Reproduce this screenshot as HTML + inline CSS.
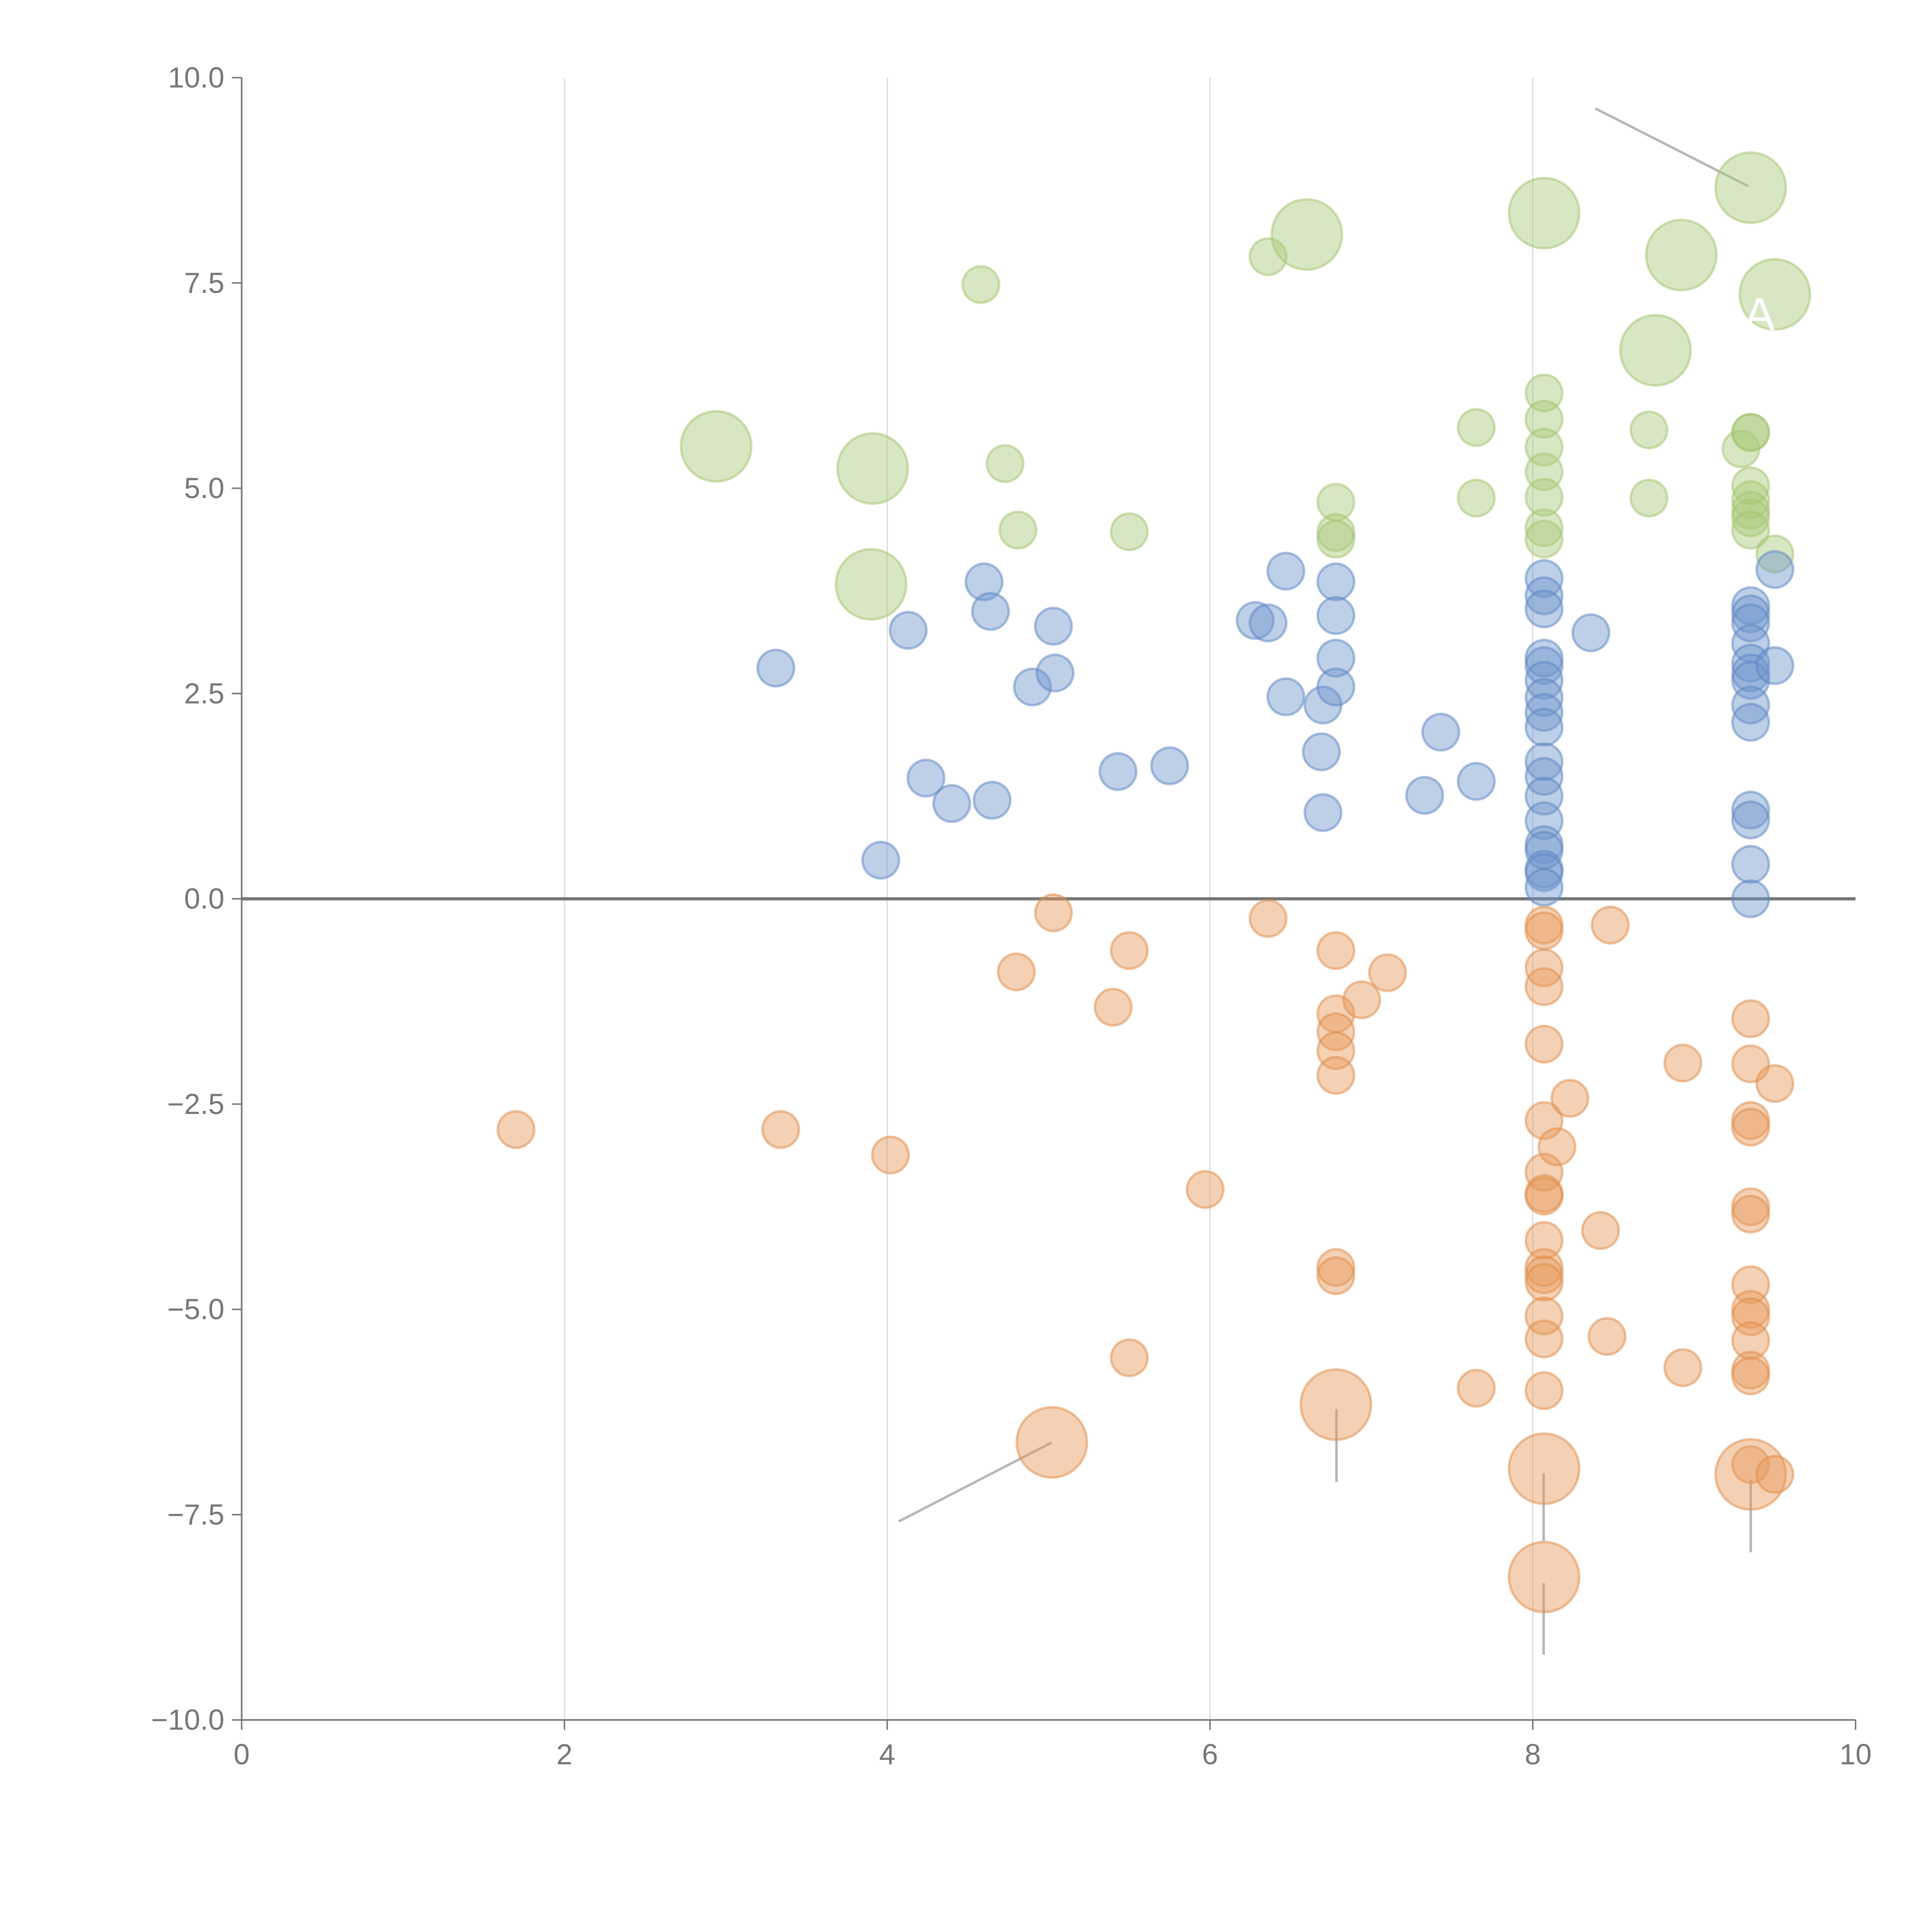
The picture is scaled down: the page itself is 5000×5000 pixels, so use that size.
<!DOCTYPE html>
<html><head><meta charset="utf-8"><style>html,body{margin:0;padding:0;background:#fff}svg{display:block}</style></head>
<body>
<svg id="chart" width="5000" height="5000" viewBox="0 0 1567 1567" xmlns="http://www.w3.org/2000/svg" font-family="Liberation Sans, sans-serif">
<g id="grid"></g>
<g id="axes"></g>
<g id="annot"></g>
<g id="marks"></g>
</svg>
<script>
const xTicks=[0,2,4,6,8,10];
const yTicks=[-10,-7.5,-5,-2.5,0,2.5,5,7.5,10];
const yTickLabels=["\u221210.0","\u22127.5","\u22125.0","\u22122.5","0.0","2.5","5.0","7.5","10.0"];
const greenX=[2.94,3.91,3.90,4.58,4.73,4.81,5.50,6.36,6.60,6.78,6.78,6.78,7.65,7.65,8.07,8.07,8.07,8.07,8.07,8.07,8.07,8.07,8.76,8.92,9.35,9.50,8.72,8.72,9.29,9.35,9.35,9.35,9.35,9.35,9.35,9.35,9.50];
const greenY=[5.51,5.24,3.83,7.48,5.30,4.49,4.47,7.82,8.09,4.83,4.46,4.38,5.74,4.88,8.35,6.16,5.84,5.50,5.20,4.89,4.52,4.38,6.68,7.84,8.66,7.36,5.71,4.88,5.48,5.68,5.68,5.03,4.86,4.73,4.64,4.49,4.20];
const greenBig=[1,1,1,0,0,0,0,0,1,0,0,0,0,0,1,0,0,0,0,0,0,0,1,1,1,1,0,0,0,0,0,0,0,0,0,0,0];
const blueX=[3.31,3.96,4.13,4.24,4.40,4.60,4.64,4.65,4.90,5.03,5.04,5.43,5.75,6.28,6.36,6.47,6.47,6.70,6.69,6.70,6.78,6.78,6.78,6.78,7.33,7.43,7.65,8.36,
8.07,8.07,8.07,8.07,8.07,8.07,8.07,8.07,8.07,8.07,8.07,8.07,8.07,8.07,8.07,8.07,8.07,8.07,
9.35,9.35,9.35,9.35,9.35,9.35,9.35,9.35,9.35,9.35,9.35,9.35,9.35,9.50,9.50];
const blueY=[2.81,0.47,3.27,1.47,1.16,3.86,3.50,1.20,2.58,3.32,2.75,1.55,1.62,3.39,3.36,3.99,2.46,2.36,1.79,1.05,3.86,3.45,2.93,2.58,1.26,2.03,1.43,3.24,
3.90,3.69,3.53,2.93,2.84,2.66,2.45,2.27,2.09,1.67,1.49,1.25,0.95,0.66,0.59,0.36,0.32,0.14,
3.57,3.47,3.36,3.11,2.87,2.75,2.66,2.36,2.15,1.08,0.96,0.42,0.00,4.01,2.84];
const orangeX=[1.70,3.34,4.02,4.80,5.03,5.02,5.40,5.50,5.50,5.97,6.36,6.78,6.78,6.78,6.78,6.78,6.78,6.78,6.78,6.94,7.10,7.65,
8.07,8.07,8.07,8.07,8.07,8.07,8.07,8.07,8.07,8.07,8.07,8.07,8.07,8.07,8.07,8.07,8.07,8.07,
8.15,8.23,8.42,8.46,8.48,8.93,8.93,
9.35,9.35,9.35,9.35,9.35,9.35,9.35,9.35,9.35,9.35,9.35,9.35,9.35,9.35,9.50,9.50];
const orangeY=[-2.81,-2.81,-3.12,-0.89,-0.17,-6.62,-1.32,-0.63,-5.59,-3.54,-0.24,-0.63,-1.40,-1.62,-1.85,-2.15,-4.49,-4.59,-6.16,-1.23,-0.90,-5.96,
-0.32,-0.39,-0.84,-1.07,-1.77,-2.70,-3.33,-3.59,-3.62,-4.16,-4.49,-4.58,-4.67,-5.08,-5.36,-5.99,-6.94,-8.26,
-3.02,-2.43,-4.04,-5.33,-0.32,-2.00,-5.71,
-1.46,-2.01,-2.70,-2.78,-3.75,-3.84,-4.70,-5.00,-5.09,-5.38,-5.74,-5.81,-6.89,-7.01,-2.25,-7.01];
const orangeBig=[0,0,0,0,0,1,0,0,0,0,0,0,0,0,0,0,0,0,1,0,0,0, 0,0,0,0,0,0,0,0,0,0,0,0,0,0,0,0,1,1, 0,0,0,0,0,0,0, 0,0,0,0,0,0,0,0,0,0,0,0,0,1,0,0];

const NS="http://www.w3.org/2000/svg";
const X0=196,X1=1505,Y0=1395,Y1=63;
function sx(v){return X0+(v-0)/(10-0)*(X1-X0);}
function sy(v){return Y0-(v+10)/20*(Y0-Y1);}
function mk(tag,attrs,parent){const e=document.createElementNS(NS,tag);for(const k in attrs)e.setAttribute(k,attrs[k]);parent.appendChild(e);return e;}
const grid=document.getElementById('grid'),axes=document.getElementById('axes'),marks=document.getElementById('marks'),annot=document.getElementById('annot');
xTicks.forEach(t=>{
  if(t>0&&t<10){const g=mk('line',{x1:sx(t),x2:sx(t),y1:Y1,y2:Y0,stroke:'#dcdcdc','stroke-width':1},grid);
  
  }
  const tk=mk('line',{x1:sx(t),x2:sx(t),y1:Y0,y2:Y0+8,stroke:'#777','stroke-width':1.2},axes);
  
  
  const tx=mk('text',{x:sx(t),y:Y0+36,'text-anchor':'middle','font-size':23.5,fill:'#777'},axes);
  tx.textContent=t;
  
  
});
yTicks.forEach((t,i)=>{
  const tk=mk('line',{x1:X0-8,x2:X0,y1:sy(t),y2:sy(t),stroke:'#777','stroke-width':1.2},axes);
  
  
  const tx=mk('text',{x:X0-14,y:sy(t)+8,'text-anchor':'end','font-size':23.5,fill:'#777'},axes);
  tx.textContent=yTickLabels[i];
  
  
});
const ya=mk('line',{x1:X0,x2:X0,y1:Y1,y2:Y0,stroke:'#777','stroke-width':1.3},axes);


const xa=mk('line',{x1:X0,x2:X1,y1:Y0,y2:Y0,stroke:'#777','stroke-width':1.3},axes);


const zl=mk('line',{x1:X0,x2:X1,y1:sy(0),y2:sy(0),stroke:'#777','stroke-width':2.6},axes);



function series(xs,ys,big,fill,stroke,name){
  xs.forEach((x,i)=>{
    const r=big&&big[i]?28.5:14.8;
    const c=mk('circle',{cx:sx(x),cy:sy(ys[i]),r:r,fill:fill,'fill-opacity':0.45,stroke:stroke,'stroke-opacity':0.5,'stroke-width':2},marks);
    
    
  });
}
series(greenX,greenY,greenBig,'#a9c97a','#a3c46e','green-bubble');
series(blueX,blueY,null,'#6f95cc','#5b86c4','blue-bubble');
series(orangeX,orangeY,orangeBig,'#e69a5b','#e08c48','orange-bubble');

const lines=[[1294,88,1418,151],[729,1234,853,1170],[1084,1143,1084,1202],[1252,1195,1252,1250],[1252,1284,1252,1342],[1420,1200,1420,1259]];
lines.forEach(l=>{
  const e=mk('line',{x1:l[0],y1:l[1],x2:l[2],y2:l[3],stroke:'#999','stroke-opacity':0.7,'stroke-width':2},annot);
  
  
});
const lab=mk('text',{x:1427,y:268,'text-anchor':'middle','font-size':38,fill:'#fff'},marks);
lab.textContent='A';


</script>
</body></html>
